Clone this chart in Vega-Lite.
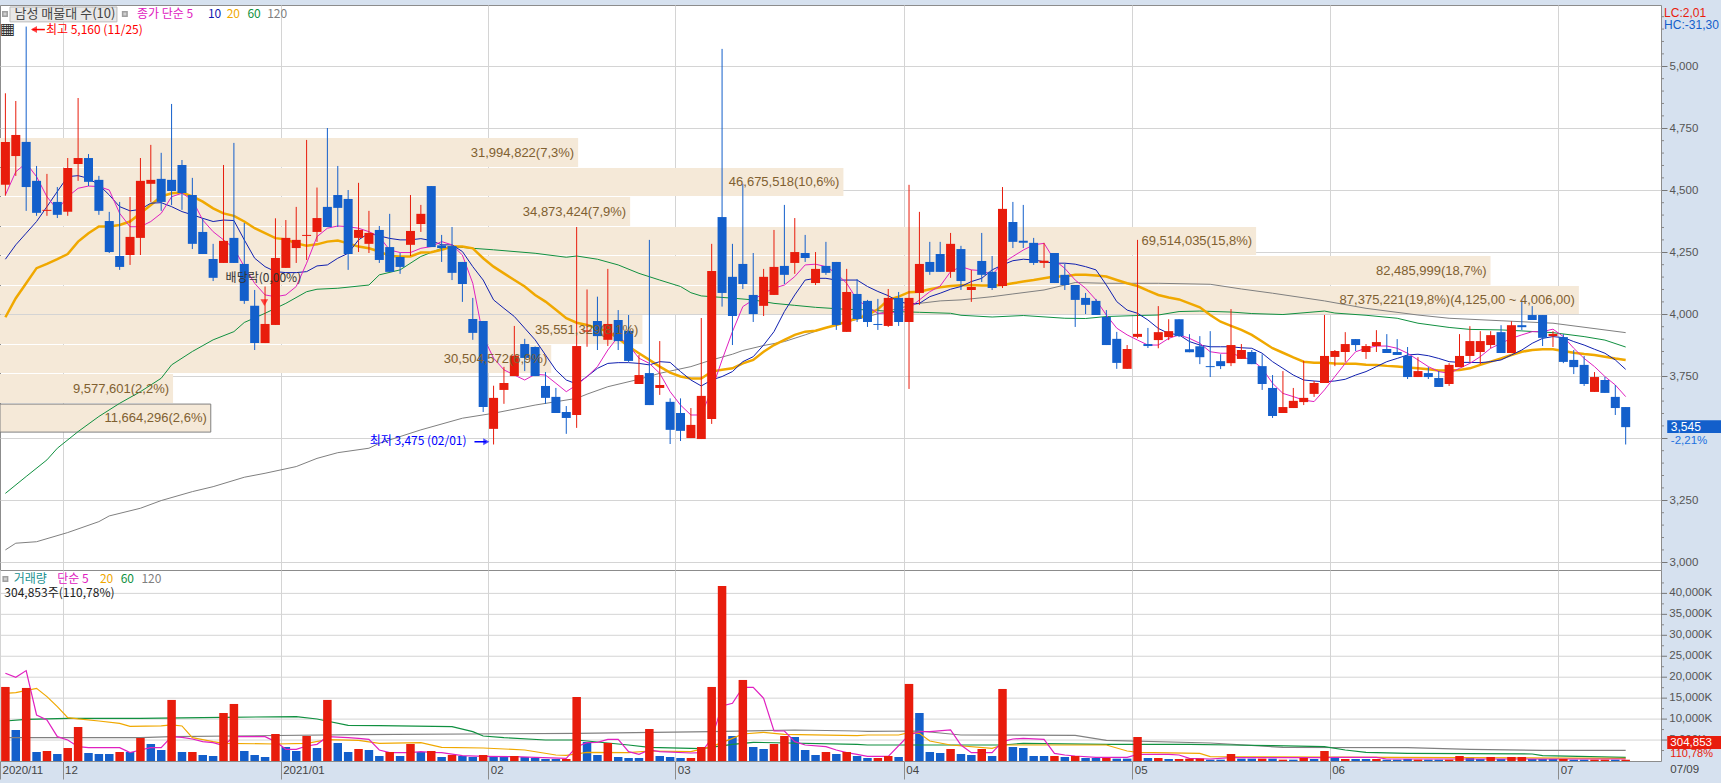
{
"$schema":"https://vega.github.io/schema/vega-lite/v6.json",
"background":"#d6e1ef",
"autosize":{"type":"none"},
"padding":{"left":0,"top":5,"right":1721,"bottom":778},
"config":{"view":{"fill":"#ffffff","stroke":"#8c8c8c","strokeWidth":1},"concat":{"spacing":0},"text":{"font":"Noto Sans CJK KR"},"axis":{"labelOverlap":false}},
"datasets":{
"candles":[
{"i":0,"d":"U","o":4522,"h":4891,"l":4478,"c":4695,"v":17670,"vd":"U"},
{"i":1,"d":"U","o":4638,"h":4860,"l":4558,"c":4723,"v":7400,"vd":"D"},
{"i":2,"d":"D","o":4695,"h":5160,"l":4417,"c":4513,"v":17430,"vd":"U"},
{"i":3,"d":"D","o":4538,"h":4598,"l":4397,"c":4409,"v":2150,"vd":"D"},
{"i":4,"d":"U","o":4417,"h":4566,"l":4397,"c":4421,"v":2390,"vd":"U"},
{"i":5,"d":"D","o":4453,"h":4513,"l":4388,"c":4401,"v":1670,"vd":"D"},
{"i":6,"d":"U","o":4413,"h":4630,"l":4397,"c":4590,"v":3100,"vd":"U"},
{"i":7,"d":"U","o":4606,"h":4872,"l":4538,"c":4630,"v":8120,"vd":"U"},
{"i":8,"d":"D","o":4630,"h":4646,"l":4517,"c":4534,"v":1910,"vd":"D"},
{"i":9,"d":"D","o":4542,"h":4558,"l":4401,"c":4417,"v":1670,"vd":"D"},
{"i":10,"d":"D","o":4376,"h":4413,"l":4247,"c":4251,"v":1670,"vd":"D"},
{"i":11,"d":"D","o":4235,"h":4453,"l":4179,"c":4191,"v":2150,"vd":"U"},
{"i":12,"d":"U","o":4239,"h":4473,"l":4199,"c":4312,"v":2150,"vd":"D"},
{"i":13,"d":"U","o":4308,"h":4630,"l":4239,"c":4538,"v":5490,"vd":"U"},
{"i":14,"d":"U","o":4526,"h":4683,"l":4453,"c":4542,"v":4060,"vd":"D"},
{"i":15,"d":"D","o":4546,"h":4651,"l":4417,"c":4453,"v":2630,"vd":"D"},
{"i":16,"d":"D","o":4542,"h":4848,"l":4440,"c":4497,"v":14570,"vd":"U"},
{"i":17,"d":"D","o":4602,"h":4622,"l":4421,"c":4489,"v":2150,"vd":"D"},
{"i":18,"d":"D","o":4481,"h":4550,"l":4263,"c":4284,"v":2150,"vd":"U"},
{"i":19,"d":"D","o":4332,"h":4388,"l":4243,"c":4243,"v":1430,"vd":"D"},
{"i":20,"d":"D","o":4223,"h":4284,"l":4134,"c":4147,"v":1190,"vd":"D"},
{"i":21,"d":"U","o":4207,"h":4602,"l":4207,"c":4296,"v":11460,"vd":"U"},
{"i":22,"d":"D","o":4308,"h":4691,"l":4207,"c":4207,"v":13610,"vd":"U"},
{"i":23,"d":"D","o":4203,"h":4368,"l":4042,"c":4054,"v":2390,"vd":"D"},
{"i":24,"d":"D","o":4034,"h":4098,"l":3856,"c":3884,"v":1430,"vd":"D"},
{"i":25,"d":"U","o":3884,"h":4112,"l":3884,"c":3961,"v":955,"vd":"D"},
{"i":26,"d":"U","o":3957,"h":4387,"l":3957,"c":4227,"v":6450,"vd":"U"},
{"i":27,"d":"U","o":4187,"h":4380,"l":4187,"c":4308,"v":3340,"vd":"D"},
{"i":28,"d":"U","o":4267,"h":4433,"l":4207,"c":4300,"v":2390,"vd":"D"},
{"i":29,"d":"U","o":4316,"h":4703,"l":4219,"c":4320,"v":5970,"vd":"U"},
{"i":30,"d":"U","o":4332,"h":4511,"l":4292,"c":4388,"v":3100,"vd":"D"},
{"i":31,"d":"D","o":4433,"h":4751,"l":4352,"c":4352,"v":14570,"vd":"U"},
{"i":32,"d":"D","o":4481,"h":4598,"l":4352,"c":4429,"v":4300,"vd":"D"},
{"i":33,"d":"D","o":4465,"h":4501,"l":4179,"c":4243,"v":2150,"vd":"D"},
{"i":34,"d":"U","o":4308,"h":4530,"l":4251,"c":4340,"v":2870,"vd":"U"},
{"i":35,"d":"U","o":4284,"h":4417,"l":4247,"c":4328,"v":2630,"vd":"D"},
{"i":36,"d":"D","o":4340,"h":4356,"l":4207,"c":4219,"v":1190,"vd":"D"},
{"i":37,"d":"D","o":4271,"h":4405,"l":4171,"c":4171,"v":2150,"vd":"U"},
{"i":38,"d":"D","o":4231,"h":4247,"l":4163,"c":4191,"v":1190,"vd":"D"},
{"i":39,"d":"U","o":4280,"h":4481,"l":4235,"c":4336,"v":4060,"vd":"U"},
{"i":40,"d":"U","o":4364,"h":4441,"l":4332,"c":4405,"v":2150,"vd":"D"},
{"i":41,"d":"D","o":4517,"h":4517,"l":4271,"c":4271,"v":2390,"vd":"U"},
{"i":42,"d":"D","o":4278,"h":4320,"l":4211,"c":4267,"v":955,"vd":"D"},
{"i":43,"d":"D","o":4275,"h":4352,"l":4138,"c":4167,"v":1430,"vd":"U"},
{"i":44,"d":"D","o":4211,"h":4211,"l":4050,"c":4122,"v":1190,"vd":"D"},
{"i":45,"d":"D","o":3981,"h":4066,"l":3897,"c":3925,"v":955,"vd":"D"},
{"i":46,"d":"D","o":3973,"h":3973,"l":3606,"c":3626,"v":1430,"vd":"U"},
{"i":47,"d":"U","o":3538,"h":3712,"l":3475,"c":3663,"v":1190,"vd":"D"},
{"i":48,"d":"U","o":3695,"h":3788,"l":3639,"c":3723,"v":1190,"vd":"D"},
{"i":49,"d":"U","o":3751,"h":3953,"l":3751,"c":3833,"v":1190,"vd":"U"},
{"i":50,"d":"D","o":3880,"h":3901,"l":3771,"c":3824,"v":955,"vd":"D"},
{"i":51,"d":"D","o":3868,"h":3870,"l":3751,"c":3751,"v":716,"vd":"D"},
{"i":52,"d":"D","o":3711,"h":3767,"l":3639,"c":3663,"v":478,"vd":"D"},
{"i":53,"d":"D","o":3667,"h":3703,"l":3602,"c":3602,"v":478,"vd":"D"},
{"i":54,"d":"D","o":3606,"h":3630,"l":3518,"c":3582,"v":478,"vd":"U"},
{"i":55,"d":"U","o":3594,"h":4352,"l":3542,"c":3872,"v":15280,"vd":"U"},
{"i":56,"d":"U","o":3930,"h":4100,"l":3869,"c":3935,"v":4540,"vd":"D"},
{"i":57,"d":"D","o":3973,"h":4071,"l":3856,"c":3912,"v":1430,"vd":"D"},
{"i":58,"d":"U","o":3897,"h":4183,"l":3872,"c":3961,"v":4300,"vd":"U"},
{"i":59,"d":"D","o":3977,"h":4017,"l":3856,"c":3892,"v":955,"vd":"D"},
{"i":60,"d":"D","o":3933,"h":3997,"l":3808,"c":3812,"v":716,"vd":"D"},
{"i":61,"d":"U","o":3719,"h":3836,"l":3719,"c":3755,"v":716,"vd":"D"},
{"i":62,"d":"D","o":3763,"h":4300,"l":3634,"c":3634,"v":7640,"vd":"U"},
{"i":63,"d":"U","o":3703,"h":3892,"l":3675,"c":3715,"v":1190,"vd":"D"},
{"i":64,"d":"D","o":3647,"h":3661,"l":3477,"c":3534,"v":955,"vd":"D"},
{"i":65,"d":"D","o":3602,"h":3661,"l":3489,"c":3530,"v":716,"vd":"D"},
{"i":66,"d":"U","o":3501,"h":3622,"l":3501,"c":3554,"v":716,"vd":"U"},
{"i":67,"d":"U","o":3497,"h":3985,"l":3497,"c":3671,"v":3340,"vd":"U"},
{"i":68,"d":"U","o":3578,"h":4284,"l":3558,"c":4175,"v":17670,"vd":"U"},
{"i":69,"d":"D","o":4392,"h":5070,"l":4031,"c":4086,"v":41790,"vd":"U"},
{"i":70,"d":"D","o":4151,"h":4284,"l":3876,"c":3993,"v":5970,"vd":"D"},
{"i":71,"d":"D","o":4203,"h":4526,"l":4102,"c":4122,"v":19340,"vd":"U"},
{"i":72,"d":"D","o":4078,"h":4247,"l":3969,"c":4001,"v":3340,"vd":"D"},
{"i":73,"d":"U","o":4034,"h":4183,"l":3993,"c":4151,"v":2870,"vd":"D"},
{"i":74,"d":"U","o":4078,"h":4340,"l":4078,"c":4191,"v":4060,"vd":"U"},
{"i":75,"d":"D","o":4195,"h":4441,"l":4122,"c":4159,"v":5970,"vd":"U"},
{"i":76,"d":"U","o":4207,"h":4388,"l":4163,"c":4251,"v":5730,"vd":"D"},
{"i":77,"d":"D","o":4247,"h":4320,"l":4211,"c":4227,"v":2630,"vd":"D"},
{"i":78,"d":"U","o":4126,"h":4251,"l":4118,"c":4183,"v":1430,"vd":"D"},
{"i":79,"d":"D","o":4195,"h":4292,"l":4159,"c":4167,"v":2150,"vd":"U"},
{"i":80,"d":"D","o":4211,"h":4211,"l":3937,"c":3957,"v":1670,"vd":"D"},
{"i":81,"d":"U","o":3929,"h":4183,"l":3929,"c":4090,"v":2150,"vd":"U"},
{"i":82,"d":"D","o":4082,"h":4142,"l":3969,"c":3981,"v":1190,"vd":"D"},
{"i":83,"d":"D","o":4054,"h":4058,"l":3949,"c":3969,"v":716,"vd":"D"},
{"i":84,"d":"D","o":3961,"h":4062,"l":3937,"c":3957,"v":716,"vd":"U"},
{"i":85,"d":"U","o":3953,"h":4102,"l":3949,"c":4066,"v":1190,"vd":"U"},
{"i":86,"d":"D","o":4066,"h":4090,"l":3953,"c":3969,"v":955,"vd":"D"},
{"i":87,"d":"U","o":3969,"h":4522,"l":3699,"c":4066,"v":18390,"vd":"U"},
{"i":88,"d":"U","o":4086,"h":4413,"l":4038,"c":4203,"v":11460,"vd":"D"},
{"i":89,"d":"D","o":4211,"h":4292,"l":4159,"c":4171,"v":2150,"vd":"D"},
{"i":90,"d":"D","o":4243,"h":4292,"l":4171,"c":4171,"v":1910,"vd":"D"},
{"i":91,"d":"U","o":4171,"h":4328,"l":4147,"c":4284,"v":2870,"vd":"U"},
{"i":92,"d":"D","o":4263,"h":4276,"l":4098,"c":4134,"v":1670,"vd":"D"},
{"i":93,"d":"U","o":4098,"h":4179,"l":4050,"c":4110,"v":1430,"vd":"D"},
{"i":94,"d":"D","o":4215,"h":4328,"l":4130,"c":4159,"v":2870,"vd":"U"},
{"i":95,"d":"D","o":4171,"h":4235,"l":4098,"c":4106,"v":1190,"vd":"D"},
{"i":96,"d":"U","o":4114,"h":4513,"l":4106,"c":4425,"v":17190,"vd":"U"},
{"i":97,"d":"D","o":4372,"h":4453,"l":4267,"c":4292,"v":3340,"vd":"D"},
{"i":98,"d":"D","o":4296,"h":4441,"l":4267,"c":4288,"v":3100,"vd":"D"},
{"i":99,"d":"D","o":4288,"h":4308,"l":4199,"c":4207,"v":1190,"vd":"D"},
{"i":100,"d":"U","o":4207,"h":4288,"l":4187,"c":4216,"v":1190,"vd":"D"},
{"i":101,"d":"D","o":4247,"h":4247,"l":4126,"c":4126,"v":1190,"vd":"U"},
{"i":102,"d":"D","o":4159,"h":4203,"l":4098,"c":4118,"v":955,"vd":"D"},
{"i":103,"d":"D","o":4118,"h":4118,"l":3949,"c":4058,"v":1190,"vd":"U"},
{"i":104,"d":"D","o":4066,"h":4086,"l":4001,"c":4038,"v":716,"vd":"D"},
{"i":105,"d":"D","o":4054,"h":4062,"l":3997,"c":3997,"v":716,"vd":"D"},
{"i":106,"d":"D","o":3989,"h":4017,"l":3876,"c":3876,"v":716,"vd":"U"},
{"i":107,"d":"D","o":3901,"h":3929,"l":3780,"c":3804,"v":557,"vd":"D"},
{"i":108,"d":"U","o":3780,"h":3876,"l":3780,"c":3860,"v":557,"vd":"D"},
{"i":109,"d":"U","o":3909,"h":4300,"l":3903,"c":3921,"v":5730,"vd":"U"},
{"i":110,"d":"D","o":3880,"h":3945,"l":3864,"c":3872,"v":716,"vd":"D"},
{"i":111,"d":"U","o":3896,"h":4033,"l":3863,"c":3928,"v":716,"vd":"U"},
{"i":112,"d":"U","o":3908,"h":3980,"l":3896,"c":3932,"v":478,"vd":"D"},
{"i":113,"d":"D","o":3980,"h":3980,"l":3908,"c":3912,"v":478,"vd":"U"},
{"i":114,"d":"D","o":3859,"h":3920,"l":3847,"c":3847,"v":557,"vd":"U"},
{"i":115,"d":"D","o":3871,"h":3912,"l":3799,"c":3827,"v":557,"vd":"U"},
{"i":116,"d":"D","o":3791,"h":3932,"l":3747,"c":3787,"v":318,"vd":"D"},
{"i":117,"d":"D","o":3811,"h":3839,"l":3779,"c":3791,"v":318,"vd":"D"},
{"i":118,"d":"U","o":3803,"h":4021,"l":3791,"c":3876,"v":1670,"vd":"U"},
{"i":119,"d":"U","o":3820,"h":3880,"l":3820,"c":3856,"v":557,"vd":"D"},
{"i":120,"d":"D","o":3848,"h":3856,"l":3799,"c":3799,"v":557,"vd":"D"},
{"i":121,"d":"D","o":3791,"h":3839,"l":3695,"c":3719,"v":557,"vd":"U"},
{"i":122,"d":"D","o":3703,"h":3755,"l":3582,"c":3590,"v":557,"vd":"D"},
{"i":123,"d":"U","o":3602,"h":3771,"l":3602,"c":3626,"v":318,"vd":"U"},
{"i":124,"d":"U","o":3622,"h":3703,"l":3622,"c":3651,"v":318,"vd":"D"},
{"i":125,"d":"U","o":3646,"h":3812,"l":3634,"c":3663,"v":716,"vd":"U"},
{"i":126,"d":"U","o":3679,"h":3731,"l":3667,"c":3723,"v":478,"vd":"D"},
{"i":127,"d":"U","o":3723,"h":3997,"l":3723,"c":3832,"v":2390,"vd":"U"},
{"i":128,"d":"U","o":3828,"h":3856,"l":3791,"c":3852,"v":716,"vd":"D"},
{"i":129,"d":"U","o":3848,"h":3928,"l":3808,"c":3880,"v":478,"vd":"U"},
{"i":130,"d":"D","o":3900,"h":3900,"l":3852,"c":3876,"v":478,"vd":"D"},
{"i":131,"d":"U","o":3848,"h":3880,"l":3820,"c":3872,"v":478,"vd":"D"},
{"i":132,"d":"U","o":3872,"h":3936,"l":3848,"c":3888,"v":478,"vd":"U"},
{"i":133,"d":"D","o":3860,"h":3920,"l":3844,"c":3844,"v":318,"vd":"D"},
{"i":134,"d":"D","o":3848,"h":3900,"l":3836,"c":3836,"v":318,"vd":"D"},
{"i":135,"d":"D","o":3832,"h":3868,"l":3739,"c":3747,"v":478,"vd":"D"},
{"i":136,"d":"U","o":3747,"h":3827,"l":3747,"c":3771,"v":318,"vd":"U"},
{"i":137,"d":"D","o":3763,"h":3787,"l":3739,"c":3747,"v":318,"vd":"D"},
{"i":138,"d":"D","o":3743,"h":3771,"l":3707,"c":3707,"v":318,"vd":"D"},
{"i":139,"d":"U","o":3719,"h":3803,"l":3711,"c":3796,"v":318,"vd":"U"},
{"i":140,"d":"U","o":3787,"h":3920,"l":3787,"c":3832,"v":1190,"vd":"U"},
{"i":141,"d":"U","o":3832,"h":3952,"l":3808,"c":3892,"v":955,"vd":"D"},
{"i":142,"d":"U","o":3848,"h":3932,"l":3799,"c":3892,"v":478,"vd":"D"},
{"i":143,"d":"U","o":3876,"h":3932,"l":3863,"c":3916,"v":955,"vd":"U"},
{"i":144,"d":"D","o":3928,"h":3956,"l":3844,"c":3844,"v":478,"vd":"D"},
{"i":145,"d":"U","o":3844,"h":3972,"l":3844,"c":3956,"v":955,"vd":"U"},
{"i":146,"d":"D","o":3956,"h":4056,"l":3936,"c":3948,"v":955,"vd":"U"},
{"i":147,"d":"D","o":3997,"h":4033,"l":3977,"c":3977,"v":478,"vd":"D"},
{"i":148,"d":"D","o":3997,"h":3997,"l":3872,"c":3905,"v":478,"vd":"D"},
{"i":149,"d":"U","o":3912,"h":3932,"l":3868,"c":3921,"v":478,"vd":"D"},
{"i":150,"d":"D","o":3908,"h":3920,"l":3803,"c":3808,"v":478,"vd":"U"},
{"i":151,"d":"D","o":3816,"h":3856,"l":3759,"c":3787,"v":318,"vd":"D"},
{"i":152,"d":"D","o":3796,"h":3832,"l":3711,"c":3719,"v":318,"vd":"D"},
{"i":153,"d":"U","o":3687,"h":3767,"l":3687,"c":3747,"v":318,"vd":"U"},
{"i":154,"d":"D","o":3735,"h":3747,"l":3683,"c":3683,"v":318,"vd":"U"},
{"i":155,"d":"D","o":3667,"h":3715,"l":3594,"c":3622,"v":318,"vd":"D"},
{"i":156,"d":"D","o":3626,"h":3626,"l":3475,"c":3545,"v":305,"vd":"U"}
],
"ma5":[{"i":0,"p":4481},{"i":1,"p":4575},{"i":2,"p":4609},{"i":3,"p":4555},{"i":4,"p":4474},{"i":5,"p":4421},{"i":6,"p":4474},{"i":7,"p":4508},{"i":8,"p":4517},{"i":9,"p":4515},{"i":10,"p":4501},{"i":11,"p":4407},{"i":12,"p":4353},{"i":13,"p":4353},{"i":14,"p":4374},{"i":15,"p":4407},{"i":16,"p":4474},{"i":17,"p":4488},{"i":18,"p":4461},{"i":19,"p":4380},{"i":20,"p":4333},{"i":21,"p":4300},{"i":22,"p":4266},{"i":23,"p":4192},{"i":24,"p":4125},{"i":25,"p":4078},{"i":26,"p":4071},{"i":27,"p":4078},{"i":28,"p":4112},{"i":29,"p":4206},{"i":30,"p":4313},{"i":31,"p":4347},{"i":32,"p":4356},{"i":33,"p":4353},{"i":34,"p":4347},{"i":35,"p":4333},{"i":36,"p":4313},{"i":37,"p":4259},{"i":38,"p":4249},{"i":39,"p":4249},{"i":40,"p":4266},{"i":41,"p":4273},{"i":42,"p":4293},{"i":43,"p":4280},{"i":44,"p":4239},{"i":45,"p":4125},{"i":46,"p":3910},{"i":47,"p":3823},{"i":48,"p":3776},{"i":49,"p":3755},{"i":50,"p":3735},{"i":51,"p":3758},{"i":52,"p":3755},{"i":53,"p":3722},{"i":54,"p":3688},{"i":55,"p":3715},{"i":56,"p":3749},{"i":57,"p":3789},{"i":58,"p":3856},{"i":59,"p":3910},{"i":60,"p":3876},{"i":61,"p":3823},{"i":62,"p":3802},{"i":63,"p":3762},{"i":64,"p":3688},{"i":65,"p":3634},{"i":66,"p":3594},{"i":67,"p":3594},{"i":68,"p":3695},{"i":69,"p":3816},{"i":70,"p":3930},{"i":71,"p":4031},{"i":72,"p":4058},{"i":73,"p":4085},{"i":74,"p":4105},{"i":75,"p":4118},{"i":76,"p":4152},{"i":77,"p":4199},{"i":78,"p":4202},{"i":79,"p":4192},{"i":80,"p":4165},{"i":81,"p":4125},{"i":82,"p":4058},{"i":83,"p":4031},{"i":84,"p":4004},{"i":85,"p":4004},{"i":86,"p":4011},{"i":87,"p":4024},{"i":88,"p":4058},{"i":89,"p":4091},{"i":90,"p":4114},{"i":91,"p":4172},{"i":92,"p":4192},{"i":93,"p":4179},{"i":94,"p":4176},{"i":95,"p":4159},{"i":96,"p":4206},{"i":97,"p":4233},{"i":98,"p":4259},{"i":99,"p":4280},{"i":100,"p":4286},{"i":101,"p":4219},{"i":102,"p":4185},{"i":103,"p":4138},{"i":104,"p":4105},{"i":105,"p":4058},{"i":106,"p":3997},{"i":107,"p":3944},{"i":108,"p":3917},{"i":109,"p":3896},{"i":110,"p":3876},{"i":111,"p":3876},{"i":112,"p":3903},{"i":113,"p":3917},{"i":114,"p":3903},{"i":115,"p":3883},{"i":116,"p":3849},{"i":117,"p":3843},{"i":118,"p":3843},{"i":119,"p":3829},{"i":120,"p":3816},{"i":121,"p":3782},{"i":122,"p":3722},{"i":123,"p":3681},{"i":124,"p":3668},{"i":125,"p":3654},{"i":126,"p":3648},{"i":127,"p":3695},{"i":128,"p":3749},{"i":129,"p":3802},{"i":130,"p":3849},{"i":131,"p":3863},{"i":132,"p":3872},{"i":133,"p":3872},{"i":134,"p":3863},{"i":135,"p":3843},{"i":136,"p":3816},{"i":137,"p":3789},{"i":138,"p":3769},{"i":139,"p":3762},{"i":140,"p":3782},{"i":141,"p":3802},{"i":142,"p":3829},{"i":143,"p":3863},{"i":144,"p":3883},{"i":145,"p":3903},{"i":146,"p":3917},{"i":147,"p":3930},{"i":148,"p":3930},{"i":149,"p":3940},{"i":150,"p":3910},{"i":151,"p":3863},{"i":152,"p":3822},{"i":153,"p":3789},{"i":154,"p":3749},{"i":155,"p":3715},{"i":156,"p":3668}],
"ma10":[{"i":0,"p":4222},{"i":1,"p":4280},{"i":2,"p":4327},{"i":3,"p":4374},{"i":4,"p":4434},{"i":5,"p":4495},{"i":6,"p":4555},{"i":7,"p":4559},{"i":8,"p":4548},{"i":9,"p":4522},{"i":10,"p":4481},{"i":11,"p":4434},{"i":12,"p":4417},{"i":13,"p":4423},{"i":14,"p":4448},{"i":15,"p":4450},{"i":16,"p":4434},{"i":17,"p":4414},{"i":18,"p":4401},{"i":19,"p":4387},{"i":20,"p":4374},{"i":21,"p":4380},{"i":22,"p":4378},{"i":23,"p":4300},{"i":24,"p":4226},{"i":25,"p":4192},{"i":26,"p":4172},{"i":27,"p":4168},{"i":28,"p":4168},{"i":29,"p":4172},{"i":30,"p":4195},{"i":31,"p":4199},{"i":32,"p":4226},{"i":33,"p":4246},{"i":34,"p":4300},{"i":35,"p":4327},{"i":36,"p":4316},{"i":37,"p":4306},{"i":38,"p":4300},{"i":39,"p":4300},{"i":40,"p":4305},{"i":41,"p":4297},{"i":42,"p":4280},{"i":43,"p":4280},{"i":44,"p":4253},{"i":45,"p":4192},{"i":46,"p":4138},{"i":47,"p":4058},{"i":48,"p":4024},{"i":49,"p":3991},{"i":50,"p":3944},{"i":51,"p":3897},{"i":52,"p":3836},{"i":53,"p":3775},{"i":54,"p":3735},{"i":55,"p":3719},{"i":56,"p":3749},{"i":57,"p":3782},{"i":58,"p":3802},{"i":59,"p":3805},{"i":60,"p":3805},{"i":61,"p":3802},{"i":62,"p":3796},{"i":63,"p":3809},{"i":64,"p":3806},{"i":65,"p":3769},{"i":66,"p":3735},{"i":67,"p":3711},{"i":68,"p":3735},{"i":69,"p":3749},{"i":70,"p":3769},{"i":71,"p":3809},{"i":72,"p":3829},{"i":73,"p":3876},{"i":74,"p":3930},{"i":75,"p":4011},{"i":76,"p":4078},{"i":77,"p":4138},{"i":78,"p":4145},{"i":79,"p":4145},{"i":80,"p":4138},{"i":81,"p":4138},{"i":82,"p":4138},{"i":83,"p":4112},{"i":84,"p":4092},{"i":85,"p":4075},{"i":86,"p":4051},{"i":87,"p":4042},{"i":88,"p":4044},{"i":89,"p":4071},{"i":90,"p":4085},{"i":91,"p":4101},{"i":92,"p":4112},{"i":93,"p":4132},{"i":94,"p":4145},{"i":95,"p":4179},{"i":96,"p":4199},{"i":97,"p":4216},{"i":98,"p":4222},{"i":99,"p":4219},{"i":100,"p":4212},{"i":101,"p":4206},{"i":102,"p":4206},{"i":103,"p":4202},{"i":104,"p":4192},{"i":105,"p":4179},{"i":106,"p":4118},{"i":107,"p":4051},{"i":108,"p":4017},{"i":109,"p":4004},{"i":110,"p":3977},{"i":111,"p":3943},{"i":112,"p":3923},{"i":113,"p":3917},{"i":114,"p":3890},{"i":115,"p":3876},{"i":116,"p":3869},{"i":117,"p":3869},{"i":118,"p":3869},{"i":119,"p":3865},{"i":120,"p":3863},{"i":121,"p":3843},{"i":122,"p":3809},{"i":123,"p":3782},{"i":124,"p":3755},{"i":125,"p":3735},{"i":126,"p":3731},{"i":127,"p":3728},{"i":128,"p":3731},{"i":129,"p":3738},{"i":130,"p":3755},{"i":131,"p":3769},{"i":132,"p":3789},{"i":133,"p":3809},{"i":134,"p":3822},{"i":135,"p":3836},{"i":136,"p":3839},{"i":137,"p":3833},{"i":138,"p":3822},{"i":139,"p":3809},{"i":140,"p":3806},{"i":141,"p":3806},{"i":142,"p":3805},{"i":143,"p":3809},{"i":144,"p":3816},{"i":145,"p":3836},{"i":146,"p":3856},{"i":147,"p":3883},{"i":148,"p":3903},{"i":149,"p":3910},{"i":150,"p":3906},{"i":151,"p":3890},{"i":152,"p":3876},{"i":153,"p":3859},{"i":154,"p":3843},{"i":155,"p":3816},{"i":156,"p":3778}],
"ma20":[{"i":0,"p":3988},{"i":1,"p":4065},{"i":2,"p":4125},{"i":3,"p":4186},{"i":4,"p":4203},{"i":5,"p":4222},{"i":6,"p":4243},{"i":7,"p":4293},{"i":8,"p":4327},{"i":9,"p":4354},{"i":10,"p":4354},{"i":11,"p":4360},{"i":12,"p":4374},{"i":13,"p":4407},{"i":14,"p":4441},{"i":15,"p":4475},{"i":16,"p":4488},{"i":17,"p":4491},{"i":18,"p":4475},{"i":19,"p":4454},{"i":20,"p":4427},{"i":21,"p":4407},{"i":22,"p":4397},{"i":23,"p":4374},{"i":24,"p":4347},{"i":25,"p":4327},{"i":26,"p":4307},{"i":27,"p":4302},{"i":28,"p":4286},{"i":29,"p":4276},{"i":30,"p":4282},{"i":31,"p":4293},{"i":32,"p":4297},{"i":33,"p":4286},{"i":34,"p":4273},{"i":35,"p":4266},{"i":36,"p":4253},{"i":37,"p":4235},{"i":38,"p":4233},{"i":39,"p":4233},{"i":40,"p":4249},{"i":41,"p":4250},{"i":42,"p":4260},{"i":43,"p":4273},{"i":44,"p":4273},{"i":45,"p":4266},{"i":46,"p":4226},{"i":47,"p":4192},{"i":48,"p":4165},{"i":49,"p":4138},{"i":50,"p":4112},{"i":51,"p":4078},{"i":52,"p":4051},{"i":53,"p":4018},{"i":54,"p":3984},{"i":55,"p":3966},{"i":56,"p":3957},{"i":57,"p":3944},{"i":58,"p":3930},{"i":59,"p":3903},{"i":60,"p":3870},{"i":61,"p":3843},{"i":62,"p":3816},{"i":63,"p":3789},{"i":64,"p":3765},{"i":65,"p":3749},{"i":66,"p":3741},{"i":67,"p":3741},{"i":68,"p":3769},{"i":69,"p":3776},{"i":70,"p":3782},{"i":71,"p":3802},{"i":72,"p":3816},{"i":73,"p":3849},{"i":74,"p":3876},{"i":75,"p":3897},{"i":76,"p":3917},{"i":77,"p":3930},{"i":78,"p":3934},{"i":79,"p":3946},{"i":80,"p":3957},{"i":81,"p":3971},{"i":82,"p":3984},{"i":83,"p":3997},{"i":84,"p":4020},{"i":85,"p":4058},{"i":86,"p":4071},{"i":87,"p":4089},{"i":88,"p":4091},{"i":89,"p":4101},{"i":90,"p":4109},{"i":91,"p":4114},{"i":92,"p":4117},{"i":93,"p":4118},{"i":94,"p":4116},{"i":95,"p":4116},{"i":96,"p":4118},{"i":97,"p":4125},{"i":98,"p":4132},{"i":99,"p":4138},{"i":100,"p":4145},{"i":101,"p":4152},{"i":102,"p":4152},{"i":103,"p":4159},{"i":104,"p":4159},{"i":105,"p":4156},{"i":106,"p":4152},{"i":107,"p":4138},{"i":108,"p":4125},{"i":109,"p":4114},{"i":110,"p":4095},{"i":111,"p":4078},{"i":112,"p":4068},{"i":113,"p":4060},{"i":114,"p":4044},{"i":115,"p":4028},{"i":116,"p":3997},{"i":117,"p":3970},{"i":118,"p":3953},{"i":119,"p":3937},{"i":120,"p":3917},{"i":121,"p":3890},{"i":122,"p":3863},{"i":123,"p":3845},{"i":124,"p":3826},{"i":125,"p":3809},{"i":126,"p":3805},{"i":127,"p":3805},{"i":128,"p":3802},{"i":129,"p":3801},{"i":130,"p":3801},{"i":131,"p":3797},{"i":132,"p":3796},{"i":133,"p":3792},{"i":134,"p":3789},{"i":135,"p":3785},{"i":136,"p":3782},{"i":137,"p":3778},{"i":138,"p":3773},{"i":139,"p":3773},{"i":140,"p":3775},{"i":141,"p":3782},{"i":142,"p":3796},{"i":143,"p":3809},{"i":144,"p":3822},{"i":145,"p":3836},{"i":146,"p":3849},{"i":147,"p":3856},{"i":148,"p":3859},{"i":149,"p":3859},{"i":150,"p":3852},{"i":151,"p":3845},{"i":152,"p":3840},{"i":153,"p":3836},{"i":154,"p":3829},{"i":155,"p":3822},{"i":156,"p":3816}],
"ma60":[{"i":0,"p":3278},{"i":2,"p":3346},{"i":4,"p":3413},{"i":5,"p":3460},{"i":7,"p":3527},{"i":9,"p":3588},{"i":11,"p":3641},{"i":13,"p":3688},{"i":15,"p":3742},{"i":16,"p":3796},{"i":18,"p":3850},{"i":20,"p":3897},{"i":22,"p":3930},{"i":23,"p":3967},{"i":25,"p":4004},{"i":27,"p":4044},{"i":29,"p":4091},{"i":30,"p":4101},{"i":32,"p":4105},{"i":35,"p":4118},{"i":36,"p":4159},{"i":38,"p":4179},{"i":40,"p":4233},{"i":42,"p":4266},{"i":43,"p":4273},{"i":45,"p":4266},{"i":47,"p":4260},{"i":51,"p":4246},{"i":54,"p":4230},{"i":55,"p":4235},{"i":57,"p":4222},{"i":59,"p":4199},{"i":61,"p":4165},{"i":63,"p":4138},{"i":65,"p":4112},{"i":66,"p":4087},{"i":67,"p":4074},{"i":70,"p":4065},{"i":72,"p":4058},{"i":74,"p":4044},{"i":76,"p":4036},{"i":78,"p":4028},{"i":81,"p":4020},{"i":83,"p":4018},{"i":85,"p":4012},{"i":88,"p":4008},{"i":91,"p":4004},{"i":92,"p":3996},{"i":95,"p":3989},{"i":98,"p":3995},{"i":102,"p":3984},{"i":104,"p":3983},{"i":106,"p":3991},{"i":109,"p":3995},{"i":111,"p":3997},{"i":113,"p":4011},{"i":115,"p":4013},{"i":118,"p":4009},{"i":120,"p":4003},{"i":123,"p":3999},{"i":127,"p":4013},{"i":128,"p":4005},{"i":131,"p":3996},{"i":134,"p":3984},{"i":136,"p":3964},{"i":139,"p":3947},{"i":141,"p":3939},{"i":144,"p":3937},{"i":146,"p":3933},{"i":149,"p":3926},{"i":152,"p":3910},{"i":154,"p":3896},{"i":156,"p":3868}],
"ma120":[{"i":0,"p":3050},{"i":1,"p":3077},{"i":3,"p":3083},{"i":6,"p":3120},{"i":9,"p":3164},{"i":10,"p":3187},{"i":13,"p":3218},{"i":15,"p":3249},{"i":18,"p":3285},{"i":20,"p":3305},{"i":23,"p":3343},{"i":25,"p":3359},{"i":28,"p":3386},{"i":30,"p":3419},{"i":32,"p":3442},{"i":35,"p":3460},{"i":36,"p":3480},{"i":40,"p":3534},{"i":44,"p":3581},{"i":47,"p":3601},{"i":51,"p":3634},{"i":55,"p":3661},{"i":56,"p":3678},{"i":58,"p":3708},{"i":61,"p":3738},{"i":63,"p":3762},{"i":66,"p":3789},{"i":68,"p":3816},{"i":70,"p":3839},{"i":71,"p":3854},{"i":73,"p":3874},{"i":75,"p":3890},{"i":77,"p":3917},{"i":79,"p":3946},{"i":81,"p":3968},{"i":83,"p":3991},{"i":86,"p":4024},{"i":88,"p":4044},{"i":90,"p":4054},{"i":92,"p":4058},{"i":95,"p":4071},{"i":97,"p":4082},{"i":100,"p":4098},{"i":102,"p":4118},{"i":103,"p":4128},{"i":106,"p":4125},{"i":111,"p":4125},{"i":116,"p":4121},{"i":119,"p":4102},{"i":122,"p":4085},{"i":127,"p":4054},{"i":131,"p":4024},{"i":136,"p":3997},{"i":139,"p":3984},{"i":144,"p":3974},{"i":149,"p":3964},{"i":156,"p":3926}],
"vma5":[{"i":0,"v":20930},{"i":1,"v":19980},{"i":2,"v":21570},{"i":3,"v":10985},{"i":4,"v":9790},{"i":5,"v":5810},{"i":6,"v":5015},{"i":7,"v":3420},{"i":8,"v":3185},{"i":11,"v":3185},{"i":12,"v":1990},{"i":13,"v":2630},{"i":14,"v":3185},{"i":15,"v":3185},{"i":16,"v":5810},{"i":17,"v":5650},{"i":18,"v":5250},{"i":19,"v":4620},{"i":20,"v":4380},{"i":21,"v":3660},{"i":22,"v":5810},{"i":25,"v":5810},{"i":26,"v":4620},{"i":27,"v":2785},{"i":28,"v":2785},{"i":29,"v":3580},{"i":30,"v":3980},{"i":31,"v":5810},{"i":33,"v":5570},{"i":34,"v":5410},{"i":35,"v":5175},{"i":36,"v":2630},{"i":37,"v":1990},{"i":39,"v":1990},{"i":40,"v":2230},{"i":41,"v":2070},{"i":42,"v":1990},{"i":44,"v":1275},{"i":46,"v":1115},{"i":49,"v":1035},{"i":51,"v":875},{"i":54,"v":635},{"i":55,"v":3420},{"i":56,"v":4380},{"i":57,"v":4460},{"i":58,"v":5175},{"i":59,"v":5175},{"i":60,"v":2230},{"i":61,"v":1590},{"i":62,"v":2630},{"i":63,"v":2230},{"i":66,"v":1910},{"i":67,"v":1990},{"i":68,"v":5410},{"i":69,"v":13130},{"i":70,"v":13770},{"i":71,"v":17590},{"i":72,"v":17590},{"i":73,"v":14965},{"i":74,"v":7165},{"i":75,"v":7165},{"i":76,"v":4620},{"i":77,"v":3820},{"i":79,"v":3420},{"i":80,"v":2630},{"i":81,"v":1990},{"i":82,"v":1590},{"i":83,"v":1115},{"i":85,"v":1115},{"i":87,"v":6210},{"i":88,"v":7005},{"i":89,"v":7005},{"i":91,"v":7400},{"i":92,"v":3820},{"i":93,"v":1990},{"i":95,"v":1990},{"i":96,"v":4620},{"i":97,"v":5250},{"i":98,"v":5410},{"i":100,"v":5175},{"i":101,"v":1830},{"i":102,"v":1430},{"i":103,"v":1190},{"i":105,"v":875},{"i":106,"v":875},{"i":108,"v":875},{"i":109,"v":1590},{"i":112,"v":1590},{"i":113,"v":1430},{"i":114,"v":635},{"i":116,"v":478},{"i":118,"v":796},{"i":127,"v":796},{"i":128,"v":875},{"i":132,"v":875},{"i":133,"v":478},{"i":156,"v":478}],
"vma20":[{"i":0,"v":16160},{"i":1,"v":16320},{"i":3,"v":17350},{"i":4,"v":15360},{"i":5,"v":12970},{"i":6,"v":10350},{"i":7,"v":10030},{"i":9,"v":9550},{"i":11,"v":8995},{"i":12,"v":8280},{"i":15,"v":8360},{"i":16,"v":8600},{"i":17,"v":8360},{"i":18,"v":5570},{"i":20,"v":4620},{"i":21,"v":4220},{"i":26,"v":4060},{"i":29,"v":4220},{"i":31,"v":5095},{"i":34,"v":4935},{"i":36,"v":4220},{"i":40,"v":4380},{"i":42,"v":3265},{"i":46,"v":3105},{"i":50,"v":2630},{"i":53,"v":1430},{"i":54,"v":1350},{"i":56,"v":2070},{"i":60,"v":1990},{"i":62,"v":2390},{"i":66,"v":2230},{"i":68,"v":3420},{"i":70,"v":5410},{"i":71,"v":6450},{"i":73,"v":6845},{"i":75,"v":6370},{"i":82,"v":6050},{"i":83,"v":6210},{"i":86,"v":6210},{"i":87,"v":6765},{"i":88,"v":6605},{"i":89,"v":4775},{"i":91,"v":3820},{"i":95,"v":3025},{"i":96,"v":3820},{"i":106,"v":3820},{"i":108,"v":2390},{"i":109,"v":2070},{"i":115,"v":1830},{"i":116,"v":1035},{"i":156,"v":635}],
"vma60":[{"i":0,"v":9550},{"i":2,"v":9950},{"i":6,"v":10190},{"i":13,"v":10190},{"i":21,"v":10430},{"i":28,"v":10590},{"i":30,"v":10030},{"i":33,"v":8520},{"i":36,"v":8440},{"i":43,"v":8200},{"i":45,"v":7005},{"i":46,"v":5970},{"i":48,"v":5570},{"i":52,"v":5015},{"i":55,"v":5015},{"i":60,"v":3820},{"i":62,"v":3265},{"i":67,"v":2945},{"i":70,"v":3980},{"i":72,"v":4460},{"i":82,"v":3980},{"i":83,"v":3820},{"i":96,"v":3820},{"i":98,"v":4220},{"i":106,"v":3980},{"i":114,"v":3980},{"i":118,"v":3820},{"i":122,"v":3660},{"i":127,"v":3420},{"i":129,"v":2630},{"i":131,"v":2070},{"i":135,"v":1830},{"i":147,"v":1670},{"i":148,"v":1275},{"i":156,"v":875}],
"vma120":[{"i":0,"v":5570},{"i":13,"v":5570},{"i":16,"v":5810},{"i":34,"v":6290},{"i":55,"v":6605},{"i":68,"v":7005},{"i":76,"v":7400},{"i":82,"v":7165},{"i":83,"v":7085},{"i":88,"v":7165},{"i":92,"v":6210},{"i":103,"v":6130},{"i":106,"v":4935},{"i":116,"v":4300},{"i":123,"v":3265},{"i":135,"v":3185},{"i":141,"v":2785},{"i":148,"v":2545},{"i":156,"v":2545}],
"vticks":[{"v":5000,"t":"5,000K"},{"v":10000,"t":"10,000K"},{"v":15000,"t":"15,000K"},{"v":20000,"t":"20,000K"},{"v":25000,"t":"25,000K"},{"v":30000,"t":"30,000K"},{"v":35000,"t":"35,000K"},{"v":40000,"t":"40,000K"}],
"bands":[
{"top":4711,"bot":4594,"mid":4652,"vol":31994822,"label":"31,994,822(7,3%)"},
{"top":4590,"bot":4477,"mid":4533,"vol":46675518,"label":"46,675,518(10,6%)"},
{"top":4473,"bot":4356,"mid":4414,"vol":34873424,"label":"34,873,424(7,9%)"},
{"top":4352,"bot":4239,"mid":4295,"vol":69514035,"label":"69,514,035(15,8%)"},
{"top":4235,"bot":4118,"mid":4176,"vol":82485999,"label":"82,485,999(18,7%)"},
{"top":4114,"bot":4001,"mid":4057,"vol":87375221,"label":"87,375,221(19,8%)(4,125,00 ~ 4,006,00)"},
{"top":3997,"bot":3880,"mid":3938,"vol":35551329,"label":"35,551,329(8,1%)"},
{"top":3876,"bot":3763,"mid":3819,"vol":30504572,"label":"30,504,572(6,9%)"},
{"top":3759,"bot":3642,"mid":3700,"vol":9577601,"label":"9,577,601(2,2%)"},
{"top":3638,"bot":3525,"mid":3581,"vol":11664296,"label":"11,664,296(2,6%)"}
]
},
"bounds":"flush",
"spacing":0,
"vconcat":[
{"width":1661,"height":565,
"layer":[
{"data":{"name":"bands"},"layer":[
{"mark":{"type":"rect","strokeWidth":1},
"encoding":{
"x":{"field":"vol","type":"quantitative","scale":{"domain":[0,91920000],"nice":false},"axis":null},
"x2":{"datum":0},
"y":{"field":"top","type":"quantitative","scale":{"domain":[2969,5247],"nice":false,"zero":false},"axis":{"orient":"right","title":null,"values":[3000,3250,3500,3750,4000,4250,4500,4750,5000],"labelExpr":"datum.value==3500?'':format(datum.value,',')","labelOverlap":false,"grid":true,"gridColor":"#d4d4d4","gridWidth":1,"domain":false,"tickColor":"#777777","tickSize":6,"labelPadding":2,"labelFont":"Liberation Sans","labelFontSize":11.5,"labelColor":"#555555"}},
"y2":{"field":"bot"},
"fill":{"value":"#f5e9d8"},
"stroke":{"condition":{"test":"datum.vol==11664296","value":"#808080"},"value":null}
}}
]},
{"layer":[
{"data":{"name":"ma120"},"mark":{"type":"line","color":"#808080","strokeWidth":1},
"encoding":{"x":{"field":"i","type":"quantitative","scale":{"domain":[-0.52,159.4],"nice":false,"zero":false,"padding":0},"axis":{"title":null,"values":[5.5,26.5,46.5,64.5,86.5,108.5,127.5,149.5],"labels":false,"ticks":false,"domain":false,"grid":true,"gridColor":"#d4d4d4","gridWidth":1}},
"y":{"field":"p","type":"quantitative"}}},
{"data":{"name":"ma60"},"mark":{"type":"line","color":"#109040","strokeWidth":1},"encoding":{"x":{"field":"i","type":"quantitative"},"y":{"field":"p","type":"quantitative"}}},
{"data":{"name":"ma20"},"mark":{"type":"line","color":"#f0a800","strokeWidth":2.5},"encoding":{"x":{"field":"i","type":"quantitative"},"y":{"field":"p","type":"quantitative"}}},
{"data":{"name":"ma10"},"mark":{"type":"line","color":"#1020b0","strokeWidth":1},"encoding":{"x":{"field":"i","type":"quantitative"},"y":{"field":"p","type":"quantitative"}}},
{"data":{"name":"ma5"},"mark":{"type":"line","color":"#e020c0","strokeWidth":1},"encoding":{"x":{"field":"i","type":"quantitative"},"y":{"field":"p","type":"quantitative"}}},
{"data":{"name":"candles"},"mark":{"type":"rule","strokeWidth":1},
"encoding":{"x":{"field":"i","type":"quantitative"},"y":{"field":"h","type":"quantitative"},"y2":{"field":"l"},
"color":{"field":"d","type":"nominal","scale":{"domain":["U","D"],"range":["#e81c0c","#135fcb"]},"legend":null}}},
{"data":{"name":"candles"},"mark":{"type":"bar","width":9},
"encoding":{"x":{"field":"i","type":"quantitative"},"y":{"field":"o","type":"quantitative"},"y2":{"field":"c"},
"color":{"field":"d","type":"nominal","scale":{"domain":["U","D"],"range":["#e81c0c","#135fcb"]},"legend":null}}},
{"data":{"values":[{"p":3050},{"p":3100},{"p":3150},{"p":3200},{"p":3300},{"p":3350},{"p":3400},{"p":3450},{"p":3550},{"p":3600},{"p":3650},{"p":3700},{"p":3800},{"p":3850},{"p":3900},{"p":3950},{"p":4050},{"p":4100},{"p":4150},{"p":4200},{"p":4300},{"p":4350},{"p":4400},{"p":4450},{"p":4550},{"p":4600},{"p":4650},{"p":4700},{"p":4800},{"p":4850},{"p":4900},{"p":4950},{"p":5050},{"p":5100},{"p":5150},{"p":5200}]},"mark":{"type":"rule","color":"#888888","strokeWidth":1},"encoding":{"x":{"datum":159.4},"x2":{"datum":159.69},"y":{"field":"p","type":"quantitative"}}},
{"data":{"values":[{"i":0.44,"i2":10.74,"p":5239,"p2":5179}]},"mark":{"type":"rect","fill":"#e8e8e8","stroke":"#bbbbbb"},"encoding":{"x":{"field":"i","type":"quantitative"},"x2":{"field":"i2"},"y":{"field":"p","type":"quantitative"},"y2":{"field":"p2"}}},
{"data":{"values":[{"i":-0.04,"p":5211},{"i":11.5,"p":5211}]},"mark":{"type":"point","shape":"square","size":20,"filled":false,"stroke":"#777777","fill":"#bbbbbb","strokeWidth":1.5},"encoding":{"x":{"field":"i","type":"quantitative"},"y":{"field":"p","type":"quantitative"}}},
{"data":{"values":[{"i":0.88,"p":5209,"t":"남성 매물대 수(10)"}]},"mark":{"type":"text","align":"left","baseline":"middle","fontSize":13,"color":"#444444"},"encoding":{"x":{"field":"i","type":"quantitative"},"y":{"field":"p","type":"quantitative"},"text":{"field":"t"}}},
{"data":{"values":[{"i":12.67,"p":5209,"t":"종가 단순 5"}]},"mark":{"type":"text","align":"left","baseline":"middle","fontSize":12,"color":"#e020c0"},"encoding":{"x":{"field":"i","type":"quantitative"},"y":{"field":"p","type":"quantitative"},"text":{"field":"t"}}},
{"data":{"values":[{"i":19.5,"p":5209,"t":"10"}]},"mark":{"type":"text","align":"left","baseline":"middle","fontSize":12,"color":"#1020b0"},"encoding":{"x":{"field":"i","type":"quantitative"},"y":{"field":"p","type":"quantitative"},"text":{"field":"t"}}},
{"data":{"values":[{"i":21.3,"p":5209,"t":"20"}]},"mark":{"type":"text","align":"left","baseline":"middle","fontSize":12,"color":"#f0a800"},"encoding":{"x":{"field":"i","type":"quantitative"},"y":{"field":"p","type":"quantitative"},"text":{"field":"t"}}},
{"data":{"values":[{"i":23.3,"p":5209,"t":"60"}]},"mark":{"type":"text","align":"left","baseline":"middle","fontSize":12,"color":"#109040"},"encoding":{"x":{"field":"i","type":"quantitative"},"y":{"field":"p","type":"quantitative"},"text":{"field":"t"}}},
{"data":{"values":[{"i":25.2,"p":5209,"t":"120"}]},"mark":{"type":"text","align":"left","baseline":"middle","fontSize":12,"color":"#808080"},"encoding":{"x":{"field":"i","type":"quantitative"},"y":{"field":"p","type":"quantitative"},"text":{"field":"t"}}},
{"data":{"values":[{"i":0.2,"p":5150,"t":"▦"}]},"mark":{"type":"text","align":"center","baseline":"middle","fontSize":16,"font":"DejaVu Sans","color":"#333333"},"encoding":{"x":{"field":"i","type":"quantitative"},"y":{"field":"p","type":"quantitative"},"text":{"field":"t"}}},
{"data":{"values":[{"i":2.6,"i2":3.8,"p":5148}]},"mark":{"type":"rule","color":"#ff0000","strokeWidth":1.5},"encoding":{"x":{"field":"i","type":"quantitative"},"x2":{"field":"i2"},"y":{"field":"p","type":"quantitative"}}},
{"data":{"values":[{"i":2.75,"p":5148}]},"mark":{"type":"point","shape":"triangle-left","filled":true,"size":50,"color":"#ff0000"},"encoding":{"x":{"field":"i","type":"quantitative"},"y":{"field":"p","type":"quantitative"}}},
{"data":{"values":[{"i":3.9,"p":5146,"t":"최고 5,160 (11/25)"}]},"mark":{"type":"text","align":"left","baseline":"middle","fontSize":12,"color":"#ff0000"},"encoding":{"x":{"field":"i","type":"quantitative"},"y":{"field":"p","type":"quantitative"},"text":{"field":"t"}}},
{"data":{"values":[{"i":45.16,"i2":46.3,"p":3486}]},"mark":{"type":"rule","color":"#0000ff","strokeWidth":1.5},"encoding":{"x":{"field":"i","type":"quantitative"},"x2":{"field":"i2"},"y":{"field":"p","type":"quantitative"}}},
{"data":{"values":[{"i":46.3,"p":3486}]},"mark":{"type":"point","shape":"triangle-right","filled":true,"size":50,"color":"#0000ff"},"encoding":{"x":{"field":"i","type":"quantitative"},"y":{"field":"p","type":"quantitative"}}},
{"data":{"values":[{"i":35.07,"p":3488,"t":"최저 3,475 (02/01)"}]},"mark":{"type":"text","align":"left","baseline":"middle","fontSize":12,"color":"#0000ff"},"encoding":{"x":{"field":"i","type":"quantitative"},"y":{"field":"p","type":"quantitative"},"text":{"field":"t"}}},
{"data":{"values":[{"i":21.2,"p":4145,"t":"배당락(0,00%)"}]},"mark":{"type":"text","align":"left","baseline":"middle","fontSize":12,"color":"#333333"},"encoding":{"x":{"field":"i","type":"quantitative"},"y":{"field":"p","type":"quantitative"},"text":{"field":"t"}}},
{"data":{"values":[{"i":24.93,"p":4047}]},"mark":{"type":"point","shape":"triangle-down","filled":true,"size":60,"color":"#ff0000"},"encoding":{"x":{"field":"i","type":"quantitative"},"y":{"field":"p","type":"quantitative"}}},
{"data":{"values":[{"i":160.0,"i2":165.2,"p":3573,"p2":3521}]},"mark":{"type":"rect","fill":"#135fcb"},"encoding":{"x":{"field":"i","type":"quantitative"},"x2":{"field":"i2"},"y":{"field":"p","type":"quantitative"},"y2":{"field":"p2"}}},
{"data":{"values":[{"i":160.35,"p":3547,"t":"3,545"}]},"mark":{"type":"text","align":"left","baseline":"middle","fontSize":12,"font":"Liberation Sans","color":"#ffffff"},"encoding":{"x":{"field":"i","type":"quantitative"},"y":{"field":"p","type":"quantitative"},"text":{"field":"t"}}},
{"data":{"values":[{"i":160.35,"p":3490,"t":"-2,21%"}]},"mark":{"type":"text","align":"left","baseline":"middle","fontSize":11.5,"font":"Liberation Sans","color":"#2070e0"},"encoding":{"x":{"field":"i","type":"quantitative"},"y":{"field":"p","type":"quantitative"},"text":{"field":"t"}}},
{"data":{"values":[{"i":159.7,"p":5215,"t":"LC:2,01"}]},"mark":{"type":"text","align":"left","baseline":"middle","fontSize":12,"font":"Liberation Sans","color":"#e81c0c"},"encoding":{"x":{"field":"i","type":"quantitative"},"y":{"field":"p","type":"quantitative"},"text":{"field":"t"}}},
{"data":{"values":[{"i":159.7,"p":5167,"t":"HC:-31,30"}]},"mark":{"type":"text","align":"left","baseline":"middle","fontSize":12,"font":"Liberation Sans","color":"#135fcb"},"encoding":{"x":{"field":"i","type":"quantitative"},"y":{"field":"p","type":"quantitative"},"text":{"field":"t"}}}
]},
{"data":{"name":"bands"},"layer":[
{"mark":{"type":"text","align":"right","baseline":"middle","dx":-4,"fontSize":13,"font":"Liberation Sans","color":"#806030"},
"encoding":{
"x":{"field":"vol","type":"quantitative","scale":{"domain":[0,91920000],"nice":false},"axis":null},
"y":{"field":"mid","type":"quantitative"},
"text":{"field":"label"}}}
]}
],
"resolve":{"scale":{"x":"independent"}}
},
{"width":1661,"height":191,
"layer":[
{"data":{"name":"vticks"},"mark":{"type":"rule","color":"#d4d4d4","strokeWidth":1},
"encoding":{"x":{"datum":-0.52,"scale":{"domain":[-0.52,159.4],"nice":false,"zero":false,"padding":0},"axis":{"title":null,"values":[-0.52,5.5,26.5,46.5,64.5,86.5,108.5,127.5,149.5],"labelExpr":"datum.value<0?'2020/11':datum.value==5.5?'12':datum.value==26.5?'2021/01':datum.value==46.5?'02':datum.value==64.5?'03':datum.value==86.5?'04':datum.value==108.5?'05':datum.value==127.5?'06':'07'","grid":true,"gridColor":"#d4d4d4","gridWidth":1,"domain":false,"tickColor":"#8c8c8c","tickSize":18,"labelAlign":"left","labelBaseline":"middle","labelOffset":2,"labelPadding":-9,"labelFont":"Liberation Sans","labelFontSize":11.5,"labelColor":"#444444","labelOverlap":false,"labelBound":false,"labelFlush":false}},
"x2":{"datum":159.4},
"y":{"field":"v","type":"quantitative","scale":{"domain":[0,45580],"nice":false},"axis":{"orient":"right","title":null,"values":[],"labels":false,"ticks":false,"grid":false,"domain":false}}}},
{"data":{"name":"candles"},"transform":[{"filter":"datum.vd=='D'"}],"mark":{"type":"bar","width":8.5,"color":"#135fcb"},"encoding":{"x":{"field":"i","type":"quantitative"},"y":{"field":"v","type":"quantitative"}}},
{"data":{"name":"vma120"},"mark":{"type":"line","color":"#808080","strokeWidth":1.2},"encoding":{"x":{"field":"i","type":"quantitative"},"y":{"field":"v","type":"quantitative"}}},
{"data":{"name":"vma60"},"mark":{"type":"line","color":"#109040","strokeWidth":1.2},"encoding":{"x":{"field":"i","type":"quantitative"},"y":{"field":"v","type":"quantitative"}}},
{"data":{"name":"vma20"},"mark":{"type":"line","color":"#f0a800","strokeWidth":1.2},"encoding":{"x":{"field":"i","type":"quantitative"},"y":{"field":"v","type":"quantitative"}}},
{"data":{"name":"vma5"},"mark":{"type":"line","color":"#e020c0","strokeWidth":1.2},"encoding":{"x":{"field":"i","type":"quantitative"},"y":{"field":"v","type":"quantitative"}}},
{"data":{"name":"candles"},"transform":[{"filter":"datum.vd=='U'"}],"mark":{"type":"bar","width":8.5,"color":"#e81c0c"},"encoding":{"x":{"field":"i","type":"quantitative"},"y":{"field":"v","type":"quantitative"}}},
{"data":{"name":"vticks"},"mark":{"type":"rule","color":"#777777","strokeWidth":1},"encoding":{"x":{"datum":159.4},"x2":{"datum":159.98},"y":{"field":"v","type":"quantitative"}}},
{"data":{"name":"vticks"},"mark":{"type":"text","align":"left","baseline":"middle","dx":0,"fontSize":11.5,"font":"Liberation Sans","color":"#555555"},"encoding":{"x":{"datum":160.2},"y":{"field":"v","type":"quantitative"},"text":{"field":"t"}}},
{"data":{"values":[{"v":2500},{"v":7500},{"v":12500},{"v":17500},{"v":22500},{"v":27500},{"v":32500},{"v":37500},{"v":42500}]},"mark":{"type":"rule","color":"#888888","strokeWidth":1},"encoding":{"x":{"datum":159.4},"x2":{"datum":159.69},"y":{"field":"v","type":"quantitative"}}},
{"data":{"values":[{"i":0,"v":43437}]},"mark":{"type":"point","shape":"square","size":20,"filled":false,"stroke":"#777777","fill":"#bbbbbb","strokeWidth":1.5},"encoding":{"x":{"field":"i","type":"quantitative"},"y":{"field":"v","type":"quantitative"}}},
{"data":{"values":[{"i":0.8,"v":43437,"t":"거래량"}]},"mark":{"type":"text","align":"left","baseline":"middle","fontSize":12,"color":"#209090"},"encoding":{"x":{"field":"i","type":"quantitative"},"y":{"field":"v","type":"quantitative"},"text":{"field":"t"}}},
{"data":{"values":[{"i":5,"v":43437,"t":"단순 5"}]},"mark":{"type":"text","align":"left","baseline":"middle","fontSize":12,"color":"#e020c0"},"encoding":{"x":{"field":"i","type":"quantitative"},"y":{"field":"v","type":"quantitative"},"text":{"field":"t"}}},
{"data":{"values":[{"i":9.1,"v":43437,"t":"20"}]},"mark":{"type":"text","align":"left","baseline":"middle","fontSize":12,"color":"#f0a800"},"encoding":{"x":{"field":"i","type":"quantitative"},"y":{"field":"v","type":"quantitative"},"text":{"field":"t"}}},
{"data":{"values":[{"i":11.1,"v":43437,"t":"60"}]},"mark":{"type":"text","align":"left","baseline":"middle","fontSize":12,"color":"#109040"},"encoding":{"x":{"field":"i","type":"quantitative"},"y":{"field":"v","type":"quantitative"},"text":{"field":"t"}}},
{"data":{"values":[{"i":13.1,"v":43437,"t":"120"}]},"mark":{"type":"text","align":"left","baseline":"middle","fontSize":12,"color":"#808080"},"encoding":{"x":{"field":"i","type":"quantitative"},"y":{"field":"v","type":"quantitative"},"text":{"field":"t"}}},
{"data":{"values":[{"i":-0.1,"v":40095,"t":"304,853주(110,78%)"}]},"mark":{"type":"text","align":"left","baseline":"middle","fontSize":12,"color":"#222222"},"encoding":{"x":{"field":"i","type":"quantitative"},"y":{"field":"v","type":"quantitative"},"text":{"field":"t"}}},
{"data":{"values":[{"i":160.0,"i2":165.2,"v":5970,"v2":2860}]},"mark":{"type":"rect","fill":"#e81c0c"},"encoding":{"x":{"field":"i","type":"quantitative"},"x2":{"field":"i2"},"y":{"field":"v","type":"quantitative"},"y2":{"field":"v2"}}},
{"data":{"values":[{"i":160.3,"v":4400,"t":"304,853"}]},"mark":{"type":"text","align":"left","baseline":"middle","fontSize":11.5,"font":"Liberation Sans","color":"#ffffff"},"encoding":{"x":{"field":"i","type":"quantitative"},"y":{"field":"v","type":"quantitative"},"text":{"field":"t"}}},
{"data":{"values":[{"i":160.3,"v":1670,"t":"110,78%"}]},"mark":{"type":"text","align":"left","baseline":"middle","fontSize":11,"font":"Liberation Sans","color":"#e81c0c"},"encoding":{"x":{"field":"i","type":"quantitative"},"y":{"field":"v","type":"quantitative"},"text":{"field":"t"}}},
{"data":{"values":[{"i":160.3,"v":-2148,"t":"07/09"}]},"mark":{"type":"text","align":"left","baseline":"middle","fontSize":11.5,"font":"Liberation Sans","color":"#444444"},"encoding":{"x":{"field":"i","type":"quantitative"},"y":{"field":"v","type":"quantitative"},"text":{"field":"t"}}}
]
}
]
}
